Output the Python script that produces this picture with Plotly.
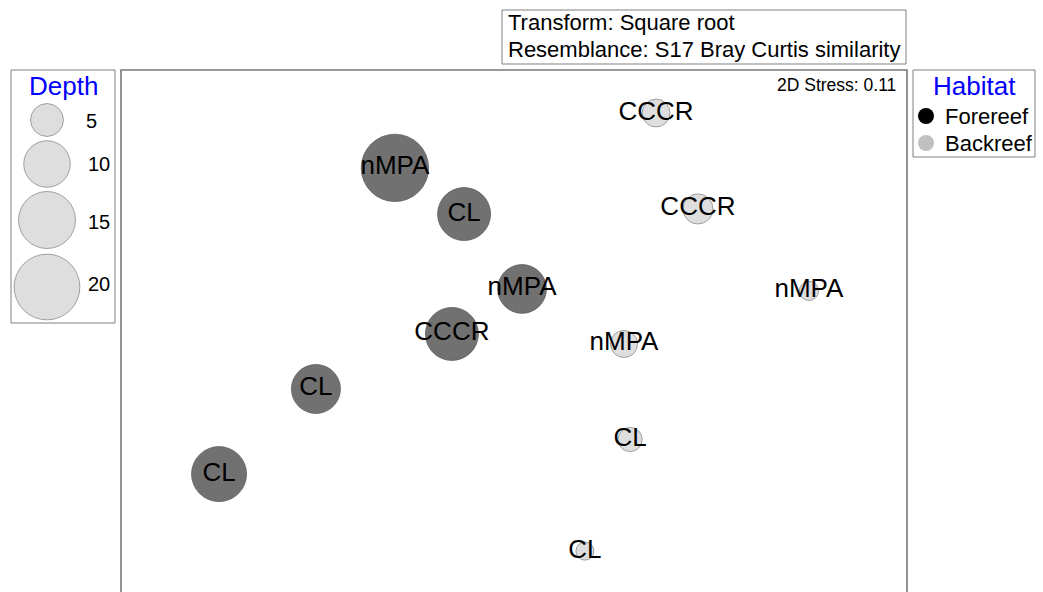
import numpy as np
import plotly.graph_objects as go

# ---- data (nMDS coordinates) ----
fore_labels = ["nMPA", "CL", "nMPA", "CCCR", "CL", "CL"]
fore_x = [-0.606, -0.254, 0.041, -0.316, -1.008, -1.501]
fore_y = [0.830, 0.595, 0.214, -0.015, -0.295, -0.728]
fore_depth = [21.0, 13.0, 11.0, 13.0, 11.1, 14.0]

back_labels = ["CCCR", "CCCR", "nMPA", "nMPA", "CL", "CL"]
back_x = [0.723, 0.936, 1.501, 0.560, 0.591, 0.361]
back_y = [1.109, 0.621, 0.204, -0.066, -0.552, -1.120]
back_depth = [3.6, 4.2, 1.7, 3.4, 2.7, 1.5]

depth_legend = [5, 10, 15, 20]
habitats = ["Forereef", "Backreef"]

W, H = 1043, 592
K = 14.7  # px diameter per sqrt(depth)


def diam(d):
    return K * np.sqrt(np.asarray(d, dtype=float))


FONT = "Arial, Liberation Sans, sans-serif"

fig = go.Figure()

fig.add_trace(go.Scatter(
    x=fore_x, y=fore_y, mode="markers+text", text=fore_labels,
    textposition="middle center",
    textfont=dict(family=FONT, size=26, color="black"),
    marker=dict(size=diam(fore_depth), sizemode="diameter", color="#717171", opacity=1,
                line=dict(color="#5e5e5e", width=0.8)),
    showlegend=False, cliponaxis=False))

fig.add_trace(go.Scatter(
    x=back_x, y=back_y, mode="markers+text", text=back_labels,
    textposition="middle center",
    textfont=dict(family=FONT, size=26, color="black"),
    marker=dict(size=diam(back_depth), sizemode="diameter", color="#dedede", opacity=1,
                line=dict(color="#8c8c8c", width=0.8)),
    showlegend=False, cliponaxis=False))

# ---- Depth legend circles (pixel overlay axis) ----
leg_cy = [120, 164, 220, 287]
fig.add_trace(go.Scatter(
    x=[47] * 4, y=leg_cy, mode="markers", xaxis="x2", yaxis="y2",
    marker=dict(size=diam(depth_legend), sizemode="diameter", color="#dedede", opacity=1,
                line=dict(color="#8c8c8c", width=0.8)),
    showlegend=False, hoverinfo="skip", cliponaxis=False))

# ---- Habitat legend dots ----
fig.add_trace(go.Scatter(
    x=[926, 926], y=[116, 143], mode="markers", xaxis="x2", yaxis="y2",
    marker=dict(size=16, color=["black", "#c0c0c0"], opacity=1, line=dict(width=0)),
    showlegend=False, hoverinfo="skip", cliponaxis=False))

annotations = []


def px_ann(text, x, y, size, color="black", xanchor="center"):
    annotations.append(dict(text=text, x=x / W, y=1 - y / H, xref="paper", yref="paper",
                            showarrow=False, xanchor=xanchor, yanchor="middle",
                            font=dict(family=FONT, size=size, color=color)))


px_ann("Depth", 63, 86, 26, "#0000ff")
label_x = [91, 99, 99, 99]
label_y = [121, 164, 222, 284]
for d, lx, ly in zip(depth_legend, label_x, label_y):
    px_ann(str(d), lx, ly, 20)

px_ann("Habitat", 974, 86, 26, "#0000ff")
px_ann(habitats[0], 943, 116, 22, xanchor="left")
px_ann(habitats[1], 943, 143, 22, xanchor="left")

px_ann("Transform: Square root", 506, 23, 22, xanchor="left")
px_ann("Resemblance: S17 Bray Curtis similarity", 506, 49, 22, xanchor="left")
px_ann("2D Stress: 0.11", 898, 85, 17.5, xanchor="right")

shapes = []


def px_rect(x0, y0, x1, y1, color="#808080", width=1):
    shapes.append(dict(type="rect", xref="paper", yref="paper",
                       x0=x0 / W, x1=x1 / W, y0=1 - y0 / H, y1=1 - y1 / H,
                       line=dict(color=color, width=width), fillcolor="rgba(0,0,0,0)"))


px_rect(11, 70, 115, 323)
px_rect(913, 70, 1035, 157)
px_rect(502, 10, 906, 64)
# main plot frame (bottom edge outside the picture)
px_rect(121, 70, 907, 610, color="#7a7a7a", width=1.6)

fig.update_layout(
    width=W, height=H, margin=dict(l=0, r=0, t=0, b=0),
    paper_bgcolor="white", plot_bgcolor="rgba(0,0,0,0)",
    xaxis=dict(domain=[121 / W, 907 / W], range=[-2, 2], visible=False, fixedrange=True),
    yaxis=dict(domain=[0, 522 / H], range=[-1.328, 1.328], visible=False, fixedrange=True),
    xaxis2=dict(domain=[0, 1], range=[0, W], visible=False, anchor="y2", fixedrange=True),
    yaxis2=dict(domain=[0, 1], range=[H, 0], visible=False, anchor="x2", fixedrange=True),
    annotations=annotations, shapes=shapes, showlegend=False,
)

fig.write_html("out.html", config={"displayModeBar": False},
               post_script="document.body.style.margin='0';document.body.style.overflow='hidden';")
